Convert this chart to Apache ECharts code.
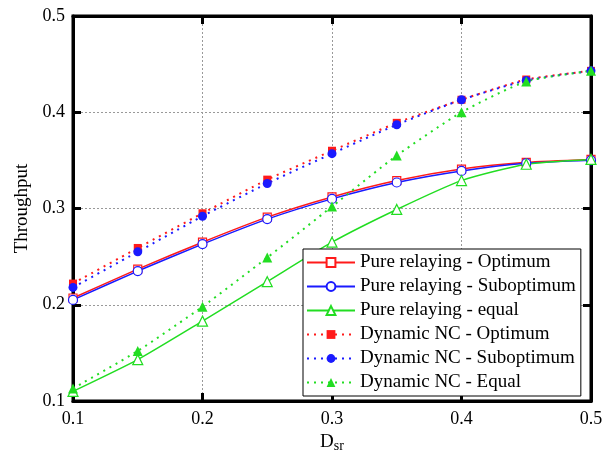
<!DOCTYPE html>
<html><head><meta charset="utf-8">
<script src="https://cdn.jsdelivr.net/npm/echarts@6/dist/echarts.min.js"></script>
<style>html,body{margin:0;padding:0;background:#fff}#c{width:616px;height:450px}</style>
</head><body><div id="c"></div>
<script>
const dsr = [0.1, 0.15, 0.2, 0.25, 0.3, 0.35, 0.4, 0.45, 0.5];
const pureOpt = [0.207, 0.237, 0.265, 0.291, 0.312, 0.329, 0.341, 0.348, 0.351];
const pureSub = [0.205, 0.235, 0.263, 0.289, 0.310, 0.327, 0.339, 0.347, 0.350];
const pureEq = [0.110, 0.143, 0.183, 0.224, 0.265, 0.299, 0.329, 0.346, 0.351];
const dncOpt = [0.222, 0.259, 0.295, 0.330, 0.360, 0.389, 0.413, 0.434, 0.443];
const dncSub = [0.218, 0.255, 0.292, 0.326, 0.357, 0.387, 0.413, 0.433, 0.443];
const dncEq = [0.113, 0.152, 0.198, 0.249, 0.302, 0.355, 0.400, 0.432, 0.443];
const xTicks = [0.1, 0.2, 0.3, 0.4, 0.5];
const yTicks = [0.1, 0.2, 0.3, 0.4, 0.5];
const names = ['Pure relaying - Optimum','Pure relaying - Suboptimum','Pure relaying - equal','Dynamic NC - Optimum','Dynamic NC - Suboptimum','Dynamic NC - Equal'];

const RED = '#ff1a1a', BLUE = '#1a1aff', GREEN = '#22dd22';
const FONT = 'Liberation Serif';
const pair = arr => dsr.map((x, i) => [x, arr[i]]);

function mk(name, data, color, symbol, size, filled, dotted) {
  return {
    name, type: 'line', data: pair(data), smooth: 0.2,
    symbol, symbolSize: size, showAllSymbol: true,
    lineStyle: { color, width: dotted ? 2 : 1.5, type: dotted ? [2, 5] : 'solid' },
    itemStyle: { color: filled ? color : '#fff', borderColor: color, borderWidth: filled ? 0 : 1.2 },
    emphasis: { disabled: true },
    z: dotted ? 3 : 2
  };
}

const axisCommon = {
  axisLine: { show: true, lineStyle: { color: '#000', width: 3 } },
  axisTick: { show: true, inside: true, length: 8, lineStyle: { color: '#000', width: 3 } },
};

const chart = echarts.init(document.getElementById('c'));
chart.setOption({
  animation: false,
  backgroundColor: '#fff',
  grid: { left: 73, right: 25, top: 16, bottom: 49, show: true, borderColor: '#000', borderWidth: 3, backgroundColor: 'transparent', containLabel: false, outerBoundsMode: 'none' },
  xAxis: [{
    type: 'value', min: 0.1, max: 0.5, interval: 0.1, position: 'bottom',
    ...axisCommon,
    axisLabel: { color: '#000', fontFamily: FONT, fontSize: 18, margin: 9, formatter: v => xTicks.includes(+v.toFixed(2)) ? v.toFixed(1) : '' },
    splitLine: { show: true, lineStyle: { color: '#999', type: [2, 2], width: 1 } },
    name: '{d|D}{s|sr}', nameLocation: 'middle', nameGap: 26,
    nameTextStyle: { rich: { d: { fontFamily: FONT, fontSize: 19, color: '#000' }, s: { fontFamily: FONT, fontSize: 14, color: '#000', verticalAlign: 'bottom', padding: [8, 0, 0, 0] } } }
  }, {
    type: 'value', min: 0.1, max: 0.5, interval: 0.1, position: 'top',
    ...axisCommon, axisLabel: { show: false }, splitLine: { show: false }
  }],
  yAxis: [{
    type: 'value', min: 0.1, max: 0.5, interval: 0.1, position: 'left',
    ...axisCommon,
    axisLabel: { color: '#000', fontFamily: FONT, fontSize: 18, margin: 8, formatter: v => yTicks.includes(+v.toFixed(2)) ? v.toFixed(1) : '' },
    splitLine: { show: true, lineStyle: { color: '#999', type: [2, 2], width: 1 } },
    name: 'Throughput', nameLocation: 'middle', nameGap: 38,
    nameTextStyle: { fontFamily: FONT, fontSize: 19, color: '#000' }
  }, {
    type: 'value', min: 0.1, max: 0.5, interval: 0.1, position: 'right',
    ...axisCommon, axisLabel: { show: false }, splitLine: { show: false }
  }],
  legend: {
    data: names, orient: 'vertical', left: 303, top: 249,
    backgroundColor: '#fff', borderColor: '#000', borderWidth: 1,
    padding: [4, 5, 4, 3], itemGap: 5, itemWidth: 48, itemHeight: 11,
    textStyle: { fontFamily: FONT, fontSize: 19, color: '#000' },
    selectedMode: false
  },
  series: [
    mk(names[0], pureOpt, RED, 'rect', 8, false, false),
    mk(names[1], pureSub, BLUE, 'circle', 9, false, false),
    mk(names[2], pureEq, GREEN, 'triangle', 10, false, false),
    mk(names[3], dncOpt, RED, 'rect', 8, true, true),
    mk(names[4], dncSub, BLUE, 'circle', 9, true, true),
    mk(names[5], dncEq, GREEN, 'triangle', 10, true, true)
  ]
});
</script></body></html>
